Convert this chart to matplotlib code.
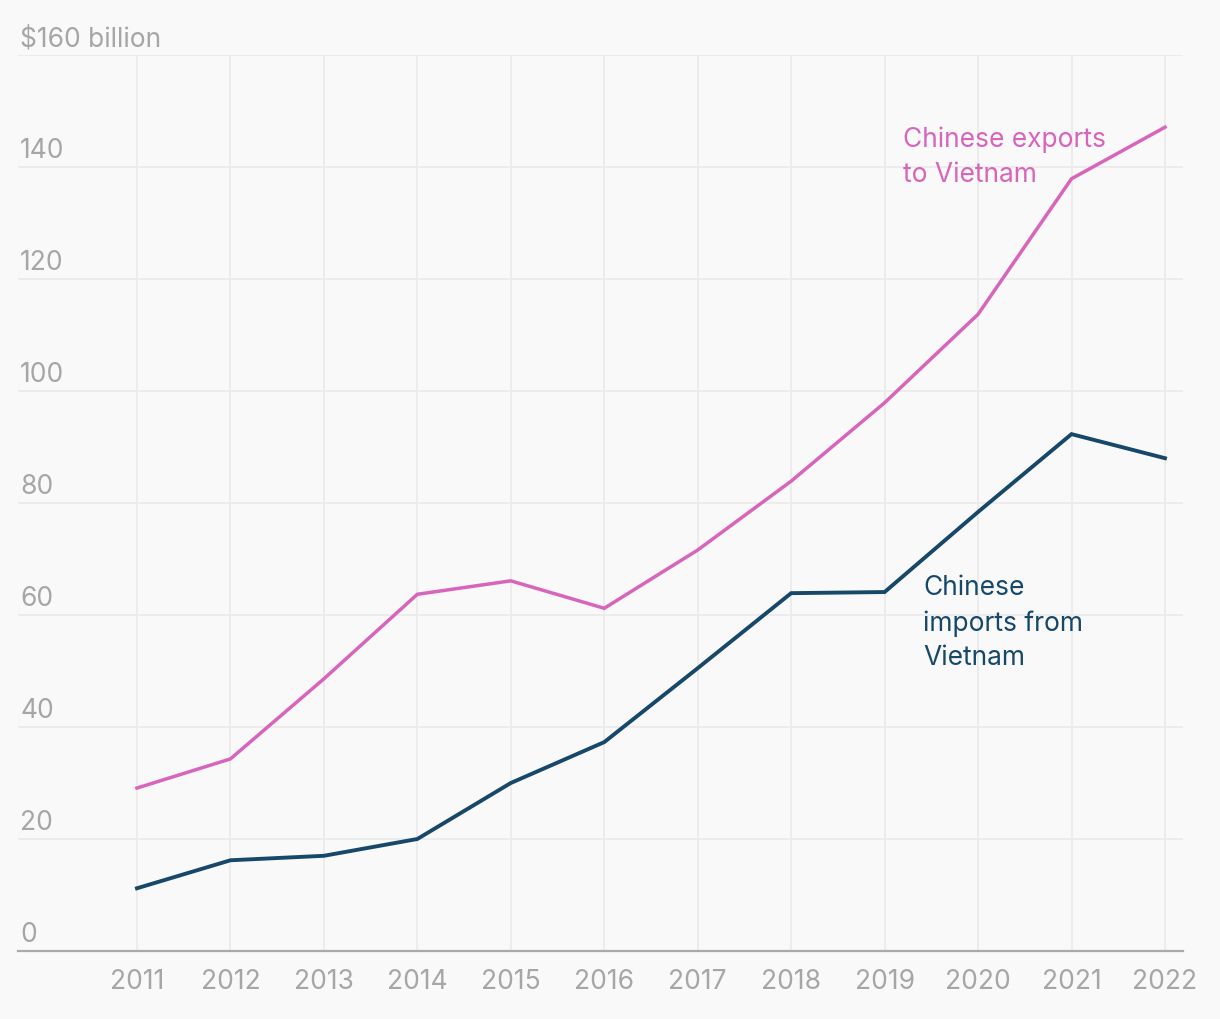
import numpy as np
import matplotlib.pyplot as plt
from matplotlib.ticker import FixedLocator

years = list(range(2011, 2023))
exports = [29.1, 34.3, 48.6, 63.7, 66.1, 61.2, 71.6, 83.9, 97.9, 113.7, 137.9, 147.1]
imports = [11.2, 16.2, 17.0, 20.0, 30.0, 37.3, 50.5, 63.9, 64.1, 78.4, 92.3, 88.0]
yticks = [0, 20, 40, 60, 80, 100, 120, 140, 160]
ylabels = ['0', '20', '40', '60', '80', '100', '120', '140', '$160 billion']

bg = '#f9f9f9'
grid_col = '#ebebeb'
text_col = '#a6a6a6'
pink = '#d665bb'
navy = '#17486a'
fs = 19

plt.rcParams['font.family'] = ['Inter', 'DejaVu Sans']

fig = plt.figure(figsize=(12.2, 10.2), dpi=100, facecolor=bg)
ax = fig.add_axes([18/1220, 68/1020, 1165/1220, 896/1020])
ax.set_facecolor(bg)

ax.set_xlim(2009.727, 2022.193)
ax.set_ylim(0, 160)

for y in yticks[1:]:
    ax.axhline(y, color=grid_col, lw=1.3, zorder=0)
for x in years:
    ax.plot([x, x], [0, 160], color=grid_col, lw=1.3, zorder=0)

ax.plot(years, exports, color=pink, lw=2.5, solid_joinstyle='miter', zorder=3)
ax.plot(years, imports, color=navy, lw=2.8, solid_joinstyle='miter', zorder=3)

for s in ['top', 'right', 'left']:
    ax.spines[s].set_visible(False)
ax.spines['bottom'].set_color('#aaaaaa')
ax.spines['bottom'].set_linewidth(1.6)

ax.set_yticks([])
ax.xaxis.set_major_locator(FixedLocator(years))
ax.tick_params(axis='x', length=0, pad=12, labelsize=fs, labelcolor=text_col)

for v, lab in zip(yticks, ylabels):
    ax.annotate(lab, xy=(0, v), xycoords=('axes fraction', 'data'),
                xytext=(1.5, 7), textcoords='offset points',
                va='baseline', ha='left', fontsize=fs, color=text_col)

# va='baseline' sits on the last line
ax.text(2019.197, 137.5, 'Chinese exports\nto Vietnam', color=pink,
        fontsize=fs, va='baseline', ha='left', linespacing=1.45)
ax.text(2019.41, 51.25, 'Chinese\nimports from\nVietnam', color=navy,
        fontsize=fs, va='baseline', ha='left', linespacing=1.42)

plt.savefig('out.png', dpi=100, facecolor=bg)
